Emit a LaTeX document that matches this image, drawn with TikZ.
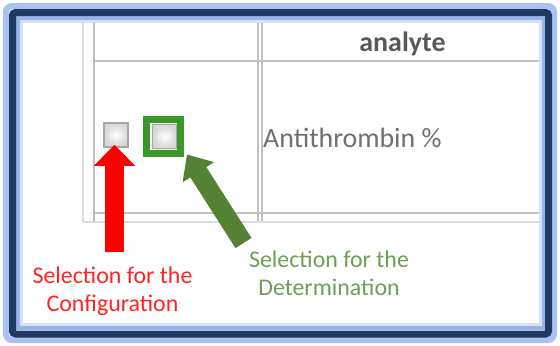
\documentclass[tikz,border=0pt]{standalone}
\usepackage{fontspec}
\setmainfont{Carlito}
\usetikzlibrary{arrows.meta}
\definecolor{navy}{RGB}{31,56,102}
\definecolor{glow}{RGB}{168,196,238}
\definecolor{bandA}{RGB}{150,180,230}
\definecolor{bandB}{RGB}{212,226,247}
\definecolor{gridc}{RGB}{192,192,192}
\definecolor{gridl}{RGB}{220,220,220}
\definecolor{boxgreen}{RGB}{58,152,40}
\definecolor{arrgreen}{RGB}{84,130,53}
\definecolor{txtgreen}{RGB}{108,160,86}
\definecolor{txtred}{RGB}{255,36,36}
\definecolor{hdrgray}{RGB}{89,89,89}
\definecolor{cellgray}{RGB}{112,112,112}
\begin{document}
\begin{tikzpicture}[x=1bp,y=-1bp,
  gridline/.style={draw=gridc,line width=1.5bp},
  gridlight/.style={draw=gridl,line width=1.2bp},
  chkbox/.style={draw={rgb,255:red,168;green,168;blue,168},line width=1.5bp,
    inner color=white,outer color={rgb,255:red,214;green,214;blue,214},
    minimum size=24bp,inner sep=0pt},
  greenframe/.style={draw=boxgreen,line width=7bp,minimum size=34bp,inner sep=0pt},
  redarrow/.style={draw=red,line width=19bp,-{Triangle[length=21bp,width=40bp]}},
  greenarrow/.style={draw=arrgreen,line width=19bp,-{Triangle[length=21bp,width=36bp]}},
  hdr/.style={font=\fontsize{28}{30}\selectfont\bfseries,text=hdrgray,anchor=base,inner sep=0pt},
  cell/.style={font=\fontsize{28}{30}\selectfont,text=cellgray,anchor=base west,inner sep=0pt},
  lbl/.style={font=\fontsize{24}{27.5}\selectfont,align=center,anchor=base,inner sep=0pt}
]
\useasboundingbox (0,0) rectangle (560,345);
\fill[white] (0,0) rectangle (560,345);
% table grid
\draw[gridlight] (83,22) -- (83,222);
\draw[gridline] (94,22) -- (94,222);
\draw[gridline,line width=1.2bp] (258,22) -- (258,222);
\draw[gridline,line width=1.2bp] (262,22) -- (262,222);
\draw[gridline] (542,22) -- (542,222);
\draw[gridline] (94,61) -- (542,61);
\draw[gridline] (94,213) -- (542,213);
\draw[gridlight] (83,222) -- (545,222);
% texts in the table
\node[hdr] (analyte) at (402.5,51) {analyte};
\node[cell] (anti) at (263,147) {Antithrombin \%};
% checkboxes
\node[chkbox] (cfg) at (116,135) {};
\node[greenframe] (det) at (163.5,136.5) {};
\node[chkbox] (detbox) at (164.5,136.5) {};
% labels (base = baseline of the last line)
\node[lbl,text=txtred] (lblcfg) at (112.5,311) {Selection for the\\Configuration};
\node[lbl,text=txtgreen] (lbldet) at (329,295) {Selection for the\\Determination};
% arrows
\coordinate (redtail) at (114.5,252);
\coordinate (greentail) at (243.5,243);
\draw[redarrow] (redtail) -- ([xshift=-1.5bp,yshift=3bp]cfg.south);
\draw[greenarrow] (greentail) -- ([xshift=3bp,yshift=2.5bp]det.south east);
% frame
\draw[glow,line width=6bp,rounded corners=6bp] (6,6) rectangle (554,340);
\draw[bandB,line width=3bp] (21,21) rectangle (540,324);
\draw[bandA,line width=4bp] (17.5,17.5) rectangle (543.5,328);
\draw[navy,line width=7bp,rounded corners=3bp] (12.5,12.5) rectangle (548.5,334);
\end{tikzpicture}
\end{document}
